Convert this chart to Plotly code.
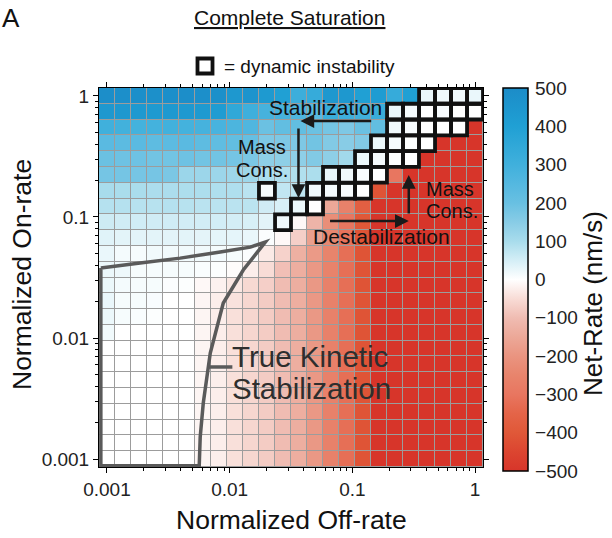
import plotly.graph_objects as go
import numpy as np

# log10 of normalized off-rate (columns) and on-rate (rows): 24 grid points
log_rates = [-3.000, -2.870, -2.739, -2.609, -2.478, -2.348, -2.217, -2.087,
             -1.957, -1.826, -1.696, -1.565, -1.435, -1.304, -1.174, -1.043,
             -0.913, -0.783, -0.652, -0.522, -0.391, -0.261, -0.130, 0.000]
off_rate_log = log_rates
on_rate_log = log_rates

# Net-rate (nm/s), rows listed from top (on-rate = 1) to bottom (on-rate = 0.001)
R = -500
net_rate_top_down = [
    [490,485,485,480,485,490,485,480,440,460,430,400,310,330,440,440,400,420,330,400,25,18,18,25],
    [440,440,435,430,435,435,430,420,350,305,285,285,265,240,320,305,300,320,25,12,0,8,0,0],
    [300,295,290,290,295,290,285,280,270,260,195,215,215,195,180,165,195,215,18,8,0,0,0,R],
    [235,230,235,225,230,235,225,220,215,205,165,165,165,185,160,150,160,22,12,4,0,R,R,R],
    [195,190,190,185,185,190,185,185,180,170,140,140,140,160,140,110,22,12,4,0,R,R,R,R],
    [180,180,178,178,170,120,118,118,115,115,95,92,90,95,25,18,8,0,-300,R,R,R,R,R],
    [100,98,98,96,96,94,94,92,92,80,10,72,75,18,12,8,0,-410,R,R,R,R,R,R],
    [85,85,83,83,85,83,80,80,80,78,55,45,22,0,-150,-260,-370,R,R,R,R,R,R,R],
    [58,55,55,55,55,52,52,52,50,45,32,18,-10,-120,-220,-300,-400,R,R,R,R,R,R,R],
    [36,33,33,33,33,33,31,30,30,25,5,-10,-70,-170,-240,-310,-410,R,R,R,R,R,R,R],
    [25,13,10,16,16,16,16,13,10,5,-30,-65,-130,-185,-250,-320,-410,R,R,R,R,R,R,R],
    [22,20,10,10,10,10,7,3,-5,-25,-50,-95,-135,-190,-255,-320,-410,R,R,R,R,R,R,R],
    [22,13,10,10,5,4,-10,-20,-35,-55,-70,-100,-135,-190,-260,-320,-410,R,R,R,R,R,R,R],
    [25,10,10,8,0,0,-14,-25,-42,-58,-75,-100,-135,-190,-260,-320,-410,R,R,R,R,R,R,R],
    [22,10,7,3,0,0,-15,-25,-45,-60,-75,-100,-135,-190,-260,-320,-410,R,R,R,R,R,R,R],
    [16,0,0,0,0,0,-15,-25,-45,-60,-75,-100,-135,-190,-260,-320,-410,R,R,R,R,R,R,R],
    [0,0,0,0,0,0,-15,-25,-45,-60,-75,-100,-135,-190,-260,-320,-410,R,R,R,R,R,R,R],
    [0,0,0,0,0,0,-15,-25,-45,-60,-75,-100,-135,-190,-260,-320,-410,R,R,R,R,R,R,R],
    [0,0,0,0,0,0,-15,-25,-45,-60,-75,-100,-135,-190,-260,-320,-410,R,R,R,R,R,R,R],
    [0,0,0,0,0,0,-15,-25,-45,-60,-75,-100,-135,-190,-260,-320,-410,R,R,R,R,R,R,R],
    [0,0,0,0,0,0,-15,-25,-45,-60,-75,-100,-135,-190,-260,-320,-410,R,R,R,R,R,R,R],
    [0,0,0,0,0,0,-15,-25,-45,-60,-75,-100,-135,-190,-260,-320,-410,R,R,R,R,R,R,R],
    [0,0,0,0,0,0,-15,-25,-45,-60,-75,-100,-135,-190,-260,-320,-410,R,R,R,R,R,R,R],
    [0,0,0,0,0,0,-15,-25,-45,-60,-75,-100,-135,-190,-260,-320,-410,R,R,R,R,R,R,R],
]
net_rate = net_rate_top_down[::-1]  # bottom row first

# dynamic-instability cells: (row index from bottom, column index)
di_cells = [(15, 11), (16, 12), (16, 13), (17, 10), (17, 13), (17, 14), (17, 15), (17, 16),
            (18, 14), (18, 15), (18, 16), (18, 17), (19, 16), (19, 17), (19, 18), (19, 19),
            (20, 17), (20, 18), (20, 19), (20, 20), (21, 18), (21, 19), (21, 20), (21, 21), (21, 22),
            (22, 18), (22, 19), (22, 20), (22, 21), (22, 22), (22, 23),
            (23, 20), (23, 21), (23, 22), (23, 23)]

# colorbar ticks
cbar_vals = [500, 400, 300, 200, 100, 0, -100, -200, -300, -400, -500]
cbar_text = [str(v).replace('-', '\u2212') for v in cbar_vals]
axis_tickvals = [-3, -2, -1, 0]
axis_ticktext = ['0.001', '0.01', '0.1', '1']

# "True Kinetic Stabilization" region outline (log10 off-rate, log10 on-rate)
tks_x = [-3.05, -2.730, -2.403, -2.077, -1.831, -1.709, -1.889, -2.052, -2.158, -2.215, -2.240, -2.248, -3.05, -3.05]
tks_y = [-1.422, -1.381, -1.340, -1.290, -1.249, -1.207, -1.438, -1.711, -2.124, -2.537, -2.817, -3.055, -3.055, -1.422]

colorscale = [
    [0.00, '#d7352a'], [0.05, '#dc4530'], [0.10, '#e05838'], [0.15, '#e46448'],
    [0.20, '#e87660'], [0.25, '#e8846c'], [0.30, '#ea9480'], [0.35, '#eca898'],
    [0.40, '#f0bcb2'], [0.45, '#f8dcd6'], [0.50, '#ffffff'], [0.55, '#d4eef6'],
    [0.60, '#a8dcec'], [0.65, '#88cce6'], [0.70, '#68c0e2'], [0.75, '#54b8e0'],
    [0.80, '#40b0dc'], [0.85, '#30a8d8'], [0.90, '#20a0d4'], [0.95, '#1d96ce'],
    [1.00, '#1c8cc8'],
]

FONT = 'Liberation Sans, Arial, sans-serif'
step = (log_rates[1] - log_rates[0])
half = step / 2
lo, hi = log_rates[0] - half, log_rates[-1] + half

fig = go.Figure()
fig.add_trace(go.Heatmap(
    x=off_rate_log, y=on_rate_log, z=net_rate,
    zmin=-500, zmax=500, colorscale=colorscale,
    xgap=1, ygap=1,
    colorbar=dict(
        x=1.052, xanchor='left', xpad=0, ypad=0,
        y=0.4947, yanchor='middle', len=1.01, lenmode='fraction',
        thickness=25, outlinecolor='black', outlinewidth=1.5,
        tickvals=cbar_vals, ticktext=cbar_text, ticks='outside', ticklen=3,
        tickcolor='rgba(0,0,0,0)',
        tickfont=dict(family=FONT, size=19, color='#222'),
    ),
    hoverinfo='skip',
))

shapes = []
# True kinetic stabilization outline
path = 'M ' + ' L '.join(f'{a},{b}' for a, b in zip(tks_x, tks_y))
shapes.append(dict(type='path', path=path, xref='x', yref='y',
                   line=dict(color='#5a5a5a', width=3.5)))
# connector
shapes.append(dict(type='line', xref='x', yref='y', x0=-2.175, x1=-1.978, y0=-2.239, y1=-2.239,
                   line=dict(color='#5a5a5a', width=3.5)))
# dynamic instability squares
for r, c in di_cells:
    shapes.append(dict(type='rect', xref='x', yref='y',
                       x0=off_rate_log[c] - half, x1=off_rate_log[c] + half,
                       y0=on_rate_log[r] - half, y1=on_rate_log[r] + half,
                       line=dict(color='#111', width=3.8)))
# legend square
shapes.append(dict(type='rect', xref='paper', yref='paper', x0=0.2565, x1=0.2956, y0=1.0383, y1=1.0778,
                   line=dict(color='#111', width=3.8), fillcolor='white'))

annotations = []
def txt(x, y, text, size, xanchor='center', color='#111', ref='x', angle=0):
    annotations.append(dict(x=x, y=y, xref=ref if ref == 'paper' else 'x', yref=ref if ref == 'paper' else 'y',
                            text=text, showarrow=False, xanchor=xanchor, yanchor='middle',
                            textangle=angle, font=dict(family=FONT, size=size, color=color)))

def arrow(xh, yh, xt, yt):
    annotations.append(dict(x=xh, y=yh, ax=xt, ay=yt, xref='x', yref='y', axref='x', ayref='y',
                            text='', showarrow=True, arrowhead=2, arrowsize=1.1, arrowwidth=2.5,
                            arrowcolor='#1a1a1a', standoff=0, startstandoff=0))

txt(-1.218, -0.093, 'Stabilization', 21)
txt(-1.733, -0.420, 'Mass', 20)
txt(-1.733, -0.610, 'Cons.', 20)
txt(-0.200, -0.765, 'Mass', 20)
txt(-0.190, -0.950, 'Cons.', 20)
txt(-0.761, -1.158, 'Destabilization', 21)
txt(-1.995, -2.150, 'True Kinetic', 29.5, xanchor='left', color='#2e2e2e')
txt(-1.995, -2.415, 'Stabilization', 29.5, xanchor='left', color='#2e2e2e')
arrow(-1.423, -0.208, -0.834, -0.208)
arrow(-1.439, -0.844, -1.439, -0.258)
arrow(-0.540, -0.654, -0.540, -0.984)
arrow(-0.540, -1.034, -1.194, -1.034)

# titles
txt(0.497, 1.1847, '<u>Complete Saturation</u>', 21, ref='paper')
txt(-0.258, 1.1847, 'A', 26, xanchor='left', ref='paper')
txt(0.3203, 1.058, '= dynamic instability', 19, xanchor='left', ref='paper')
txt(0.5, -0.1398, 'Normalized Off-rate', 26.5, ref='paper')
txt(-0.2005, 0.5066, 'Normalized On-rate', 26.5, ref='paper', angle=-90)
txt(1.2865, 0.43, 'Net-Rate (nm/s)', 26, ref='paper', angle=-90)

minor_vals = [float(np.log10(k)) + d for d in (-3, -2, -1) for k in range(2, 10)]

axis_common = dict(
    range=[lo, hi], tickvals=axis_tickvals, ticktext=axis_ticktext,
    ticks='outside', ticklen=5, tickcolor='black', tickwidth=1,
    showline=True, linecolor='black', linewidth=1, mirror='allticks',
    showgrid=False, zeroline=False,
    tickfont=dict(family=FONT, size=19, color='#222'),
    minor=dict(tickvals=minor_vals, ticks='outside', ticklen=3, tickcolor='black', showgrid=False),
)

fig.update_layout(
    width=612, height=538,
    margin=dict(l=99, r=129, t=88, b=71),
    paper_bgcolor='white', plot_bgcolor='#9c9c9c',
    xaxis=axis_common, yaxis=axis_common,
    shapes=shapes, annotations=annotations,
    font=dict(family=FONT),
)

fig.write_html('out.html')
